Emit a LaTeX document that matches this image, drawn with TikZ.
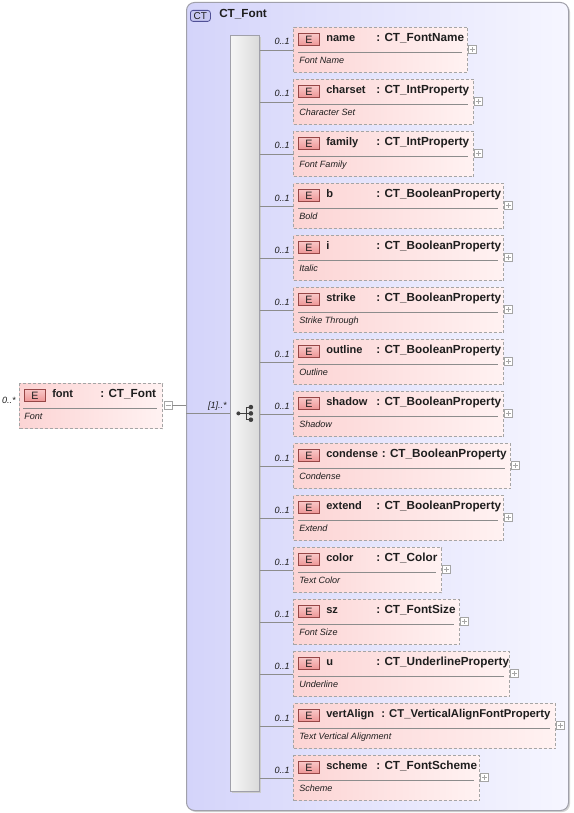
\documentclass[tikz,border=0pt]{standalone}
\usepackage{fontspec}
\setmainfont{Liberation Sans}
\usetikzlibrary{calc}
\definecolor{ctL}{RGB}{212,212,250}
\definecolor{ctR}{RGB}{246,246,255}
\definecolor{ctBorder}{RGB}{160,160,170}
\definecolor{pinkL}{RGB}{252,212,212}
\definecolor{pinkR}{RGB}{255,242,242}
\definecolor{dashGray}{RGB}{165,165,165}
\definecolor{connGray}{RGB}{140,140,140}
\definecolor{eTop}{RGB}{250,200,200}
\definecolor{eBot}{RGB}{238,150,150}
\definecolor{eBorder}{RGB}{150,70,70}
\definecolor{ctbFill}{RGB}{200,200,242}
\definecolor{ctbBorder}{RGB}{80,80,150}
\definecolor{barL}{RGB}{246,246,246}
\definecolor{barR}{RGB}{218,218,218}
\definecolor{txt}{RGB}{30,30,30}
\tikzset{
  conn/.style={draw=connGray, line width=0.6pt},
  elbox/.style={rectangle, draw=dashGray, dash pattern=on 2.25pt off 1.5pt, line width=0.75pt,
    left color=pinkL, right color=pinkR, minimum height=45*0.75pt, inner sep=0pt},
  ebadge/.style={rectangle, draw=eBorder, line width=0.6pt, top color=eTop, bottom color=eBot,
    minimum width=21*0.75pt, minimum height=12*0.75pt, inner sep=0pt,
    font=\fontsize{8}{8}\selectfont, text=txt},
  ttl/.style={inner sep=0pt, font=\fontsize{8.8}{10}\selectfont\bfseries, text=txt},
  nam/.style={inner sep=0pt, font=\fontsize{8.3}{10}\selectfont\bfseries, text=txt},
  dsc/.style={inner sep=0pt, font=\fontsize{6.8}{8}\selectfont\itshape, text=txt},
  lbl/.style={inner sep=0pt, font=\fontsize{6.8}{8}\selectfont\itshape, text=txt},
  sepline/.style={draw=connGray, line width=0.6pt},
  plusbox/.style={rectangle, draw=dashGray, fill=white, line width=0.5pt,
    minimum width=8*0.75pt, minimum height=8*0.75pt, inner sep=0pt},
  plusline/.style={draw=gray!70, line width=0.5pt},
  seqbar/.style={rectangle, draw=ctBorder, line width=0.6pt, left color=barL, right color=barR,
    minimum width=29*0.75pt, minimum height=756*0.75pt, inner sep=0pt},
  ctouter/.style={rectangle, draw=ctBorder, line width=0.75pt, rounded corners=6pt,
    left color=ctL, right color=ctR, minimum width=382*0.75pt, minimum height=808*0.75pt, inner sep=0pt},
  ctbadge/.style={rectangle, rounded corners=2pt, draw=ctbBorder, fill=ctbFill, line width=0.6pt,
    minimum width=20*0.75pt, minimum height=11*0.75pt, inner sep=0pt,
    font=\fontsize{7.5}{8}\selectfont, text=txt},
  seqicon/.style={black!75, line width=0.9pt}
}
% [type style], id, top, right, name, typex, type, desc
\newcommand\xelem[8][]{%
  \node[elbox, minimum width={(#4-293)*0.75pt}, anchor=north west] (#2) at (293,#3) {};
  \node[ebadge, anchor=north west] (#2-E) at (298,#3+6) {E};
  \node[nam, anchor=base west] (#2-n) at (326,#3+14.5) {#5};
  \node[ttl, anchor=base west, #1] (#2-t) at (#6,#3+14.5) {: #7};
  \draw[sepline] (298,#3+25) -- (#4-5,#3+25);
  \node[dsc, anchor=base west] (#2-d) at (299,#3+36.5) {#8};
  \node[plusbox] (#2-p) at (#4+5,#3+22.5) {};
  \draw[plusline] ($(#2-p.center)+(-2.5,0)$) -- ($(#2-p.center)+(2.5,0)$);
  \draw[plusline] ($(#2-p.center)+(0,-2.5)$) -- ($(#2-p.center)+(0,2.5)$);
  \node[lbl, anchor=base east] (#2-l) at (290,#3+18) {0..1};
  \draw[conn] (bar.east |- #2.west) -- (#2.west);
}
\begin{document}
\begin{tikzpicture}[x=0.75pt,y=-0.75pt]
\useasboundingbox (0,0) rectangle (574,813);
% outer complex type box
\fill[gray!35, rounded corners=6pt] (188,4) rectangle (570,812);
\node[ctouter, anchor=north west] (ctbox) at (186,2) {};
\node[ctbadge, anchor=north west] (ctb) at (190,10) {CT};
\node[ttl, anchor=base west] (ctname) at (219,17.5) {CT\_Font};
% sequence bar
\fill[gray!40] (232,37) rectangle (261,793);
\node[seqbar, anchor=north west] (bar) at (230,35) {};
\begin{scope}[shift={(bar.center)}]
  \fill[black!75] (-6.5,0) circle (2);
  \draw[seqicon] (-6.5,0) -- (1.5,0);
  \draw[seqicon] (1.5,-6.3) -- (1.5,6.3);
  \draw[seqicon] (1.5,-6.3) -- (6,-6.3) (1.5,0) -- (6,0) (1.5,6.3) -- (6,6.3);
  \fill[black!75] (6,-6.3) circle (2.3) (6,0) circle (2.3) (6,6.3) circle (2.3);
\end{scope}
% left element
\node[elbox, minimum width=143*0.75pt, anchor=north west] (font) at (19,383) {};
\node[ebadge, anchor=north west] (font-E) at (24,389) {E};
\node[nam, anchor=base west] (font-n) at (52,397.5) {font};
\node[ttl, anchor=base west] (font-t) at (100,397.5) {: CT\_Font};
\draw[sepline] (23,408) -- (157,408);
\node[dsc, anchor=base west] (font-d) at (24,419.5) {Font};
\node[plusbox] (font-p) at (168,405.5) {};
\draw[plusline] ($(font-p.center)+(-2.5,0)$) -- ($(font-p.center)+(2.5,0)$);
\node[lbl, anchor=base east] (font-l) at (16,403) {0..*};
\draw[conn] (font-p.east) -- (ctbox.west |- font-p.east);
\draw[conn] (ctbox.west |- bar.west) -- (bar.west);
\node[lbl, anchor=base east] (seq-l) at (227,408) {[1]..*};
% children
\xelem{e1}{27}{467}{name}{376}{CT\_FontName}{Font Name}
\xelem{e2}{79}{473}{charset}{376}{CT\_IntProperty}{Character Set}
\xelem{e3}{131}{473}{family}{376}{CT\_IntProperty}{Font Family}
\xelem{e4}{183}{503}{b}{376}{CT\_BooleanProperty}{Bold}
\xelem{e5}{235}{503}{i}{376}{CT\_BooleanProperty}{Italic}
\xelem{e6}{287}{503}{strike}{376}{CT\_BooleanProperty}{Strike Through}
\xelem{e7}{339}{503}{outline}{376}{CT\_BooleanProperty}{Outline}
\xelem{e8}{391}{503}{shadow}{376}{CT\_BooleanProperty}{Shadow}
\xelem{e9}{443}{510}{condense}{381.5}{CT\_BooleanProperty}{Condense}
\xelem{e10}{495}{503}{extend}{376}{CT\_BooleanProperty}{Extend}
\xelem{e11}{547}{441}{color}{376}{CT\_Color}{Text Color}
\xelem{e12}{599}{459}{sz}{376}{CT\_FontSize}{Font Size}
\xelem{e13}{651}{509}{u}{376}{CT\_UnderlineProperty}{Underline}
\xelem[font=\fontsize{8.5}{10}\selectfont\bfseries]{e14}{703}{555}{vertAlign}{381}{CT\_VerticalAlignFontProperty}{Text Vertical Alignment}
\xelem{e15}{755}{479}{scheme}{376}{CT\_FontScheme}{Scheme}
\end{tikzpicture}
\end{document}
